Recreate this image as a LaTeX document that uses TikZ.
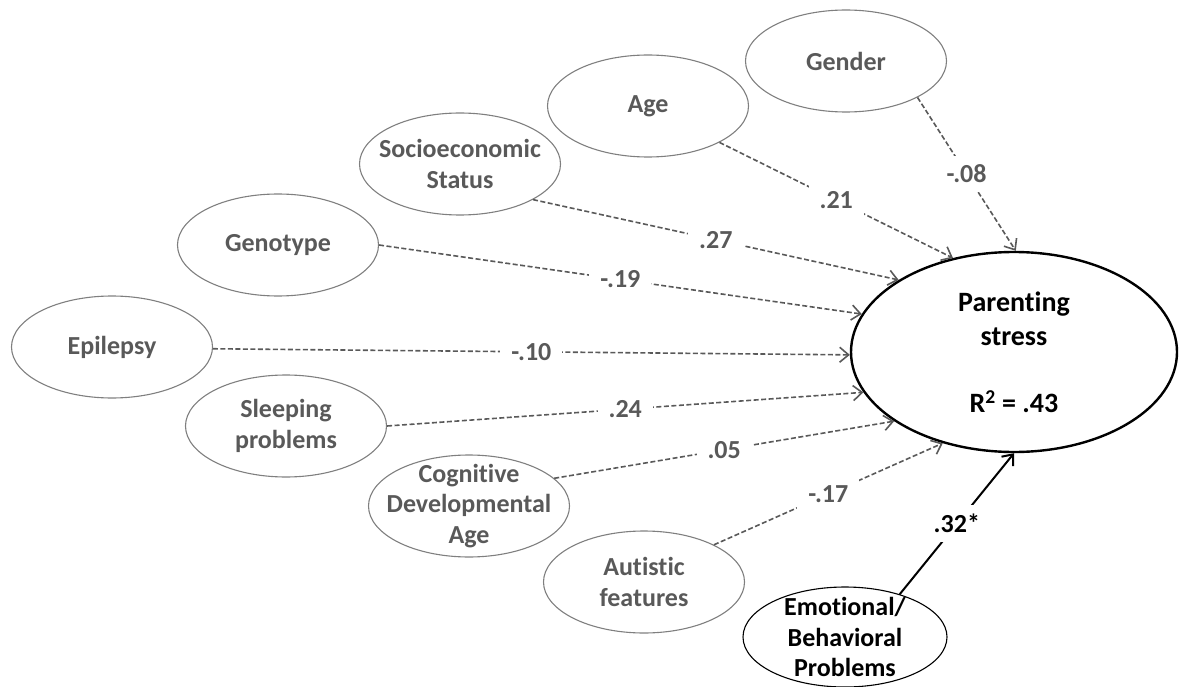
\documentclass[tikz,border=0pt]{standalone}
\usepackage{fontspec}
\setmainfont{Carlito}[Ligatures=NoCommon]
\usetikzlibrary{shapes.geometric,arrows.meta}
\definecolor{txtgray}{HTML}{595959}
\definecolor{rimgray}{HTML}{7F7F7F}

\begin{document}
\begin{tikzpicture}[x=1pt,y=-1pt,
  var/.style={ellipse,draw=rimgray,line width=1.1pt,inner sep=-50pt,
    minimum width=201pt,minimum height=102pt,align=center,text=txtgray,
    font=\bfseries\fontsize{26}{30.5}\selectfont},
  eff/.style={draw=txtgray,line width=1.6pt,dash pattern=on 5pt off 2.5pt,
    -{Straight Barb[length=9pt,width=15pt]}},
  coef/.style={fill=white,inner xsep=11pt,inner ysep=9pt,text=txtgray,
    font=\bfseries\fontsize{26}{30}\selectfont}]
\useasboundingbox (0,0) rectangle (1183,687);
\node[var] (gender) at (846,61) {Gender};
\node[var] (age) at (648,106) {Age};
\node[var] (ses) at (460,164) {Socioeconomic\\Status};
\node[var] (geno) at (278,245) {Genotype};
\node[var] (epi) at (112,347) {Epilepsy};
\node[var] (sleep) at (286,426) {Sleeping\\problems};
\node[var] (cog) at (469,506) {Cognitive\\Developmental\\Age};
\node[var] (aut) at (644,582) {Autistic\\features};
\node[var,draw=black,text=black,minimum width=204pt,minimum height=100pt] (emo) at (845,637) {Emotional/\\Behavioral\\Problems};
\node[ellipse,draw=black,line width=2.4pt,inner sep=-50pt,minimum width=326pt,minimum height=200pt,
  align=center,font=\bfseries\fontsize{28}{34}\selectfont] (ps) at (1014,352)
  {Parenting\\stress\\[33pt]R\textsuperscript{2} = .43};
\path
(gender.-27) edge[eff] node[coef] {-.08} (ps.89)
(age.-27) edge[eff] node[coef] {.21} (ps.123)
(ses.-26) edge[eff] node[coef] {.27} (ps.148)
(geno.0) edge[eff] node[coef] {-.19} (ps.166)
(epi.-1) edge[eff] node[coef] {-.10} (ps.181)
(sleep.0) edge[eff] node[coef] {.24} (ps.195)
(cog.18) edge[eff] node[coef] {.05} (ps.210)
(aut.28) edge[eff] node[coef] {-.17} (ps.232);
\path (emo.38) edge[draw=black,line width=2pt,-{Straight Barb[length=9pt,width=15pt]}]
  node[coef,text=black] {.32*} (ps.270);
\end{tikzpicture}
\end{document}
